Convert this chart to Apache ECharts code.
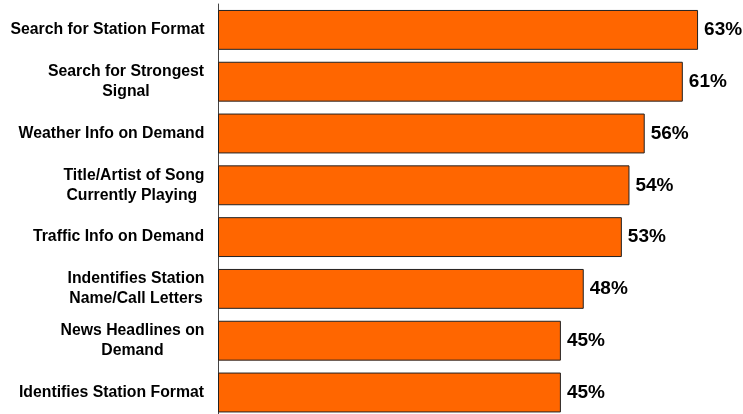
<!DOCTYPE html>
<html>
<head>
<meta charset="utf-8">
<script src="https://cdn.jsdelivr.net/npm/echarts@6/dist/echarts.min.js"></script>
<style>html,body{margin:0;padding:0;background:#fff;overflow:hidden}#c{width:743px;height:420px}</style>
</head>
<body>
<div id="c"></div>
<script>
const categories = [
  "Search for Station Format",
  "Search for Strongest\nSignal",
  "Weather Info on Demand",
  "Title/Artist of Song\nCurrently Playing ",
  "Traffic Info on Demand",
  "Indentifies Station\nName/Call Letters",
  "News Headlines on\nDemand",
  "Identifies Station Format"
];
const values = [63, 61, 56, 54, 53, 48, 45, 45];

const labelFont = 'bold 15.8px "Liberation Sans", Arial, sans-serif';
const ctx = document.createElement('canvas').getContext('2d');
ctx.font = labelFont;
const rich = {};
categories.forEach((c, i) => {
  const w = Math.max(...c.split('\n').map(s => ctx.measureText(s).width));
  rich['r' + i] = {
    width: Math.ceil(w) + 1, align: 'center',
    fontFamily: '"Liberation Sans", Arial, sans-serif',
    fontWeight: 'bold', fontSize: 15.8, lineHeight: 20, color: '#000'
  };
});

const chart = echarts.init(document.getElementById('c'));
chart.setOption({
  animation: false,
  grid: { left: 218, top: 4, width: 495.3, height: 414.4 },
  xAxis: { type: 'value', min: 0, max: 65, show: false },
  yAxis: {
    type: 'category',
    data: categories,
    inverse: true,
    axisLine: { show: true, lineStyle: { color: '#444', width: 1 } },
    axisTick: { show: false },
    axisLabel: {
      margin: 13,
      align: 'right',
      formatter: (v, i) => v.split('\n').map(s => '{r' + i + '|' + s + '}').join('\n'),
      rich: rich
    }
  },
  series: [{
    type: 'bar',
    data: values,
    barCategoryGap: '23%',
    itemStyle: { color: '#FF6600', borderColor: '#222', borderWidth: 1 },
    label: {
      show: true,
      position: 'right',
      distance: 6,
      formatter: p => p.value + '%',
      fontFamily: '"Liberation Sans", Arial, sans-serif',
      fontWeight: 'bold',
      fontSize: 19,
      color: '#000'
    }
  }]
});
</script>
</body>
</html>
